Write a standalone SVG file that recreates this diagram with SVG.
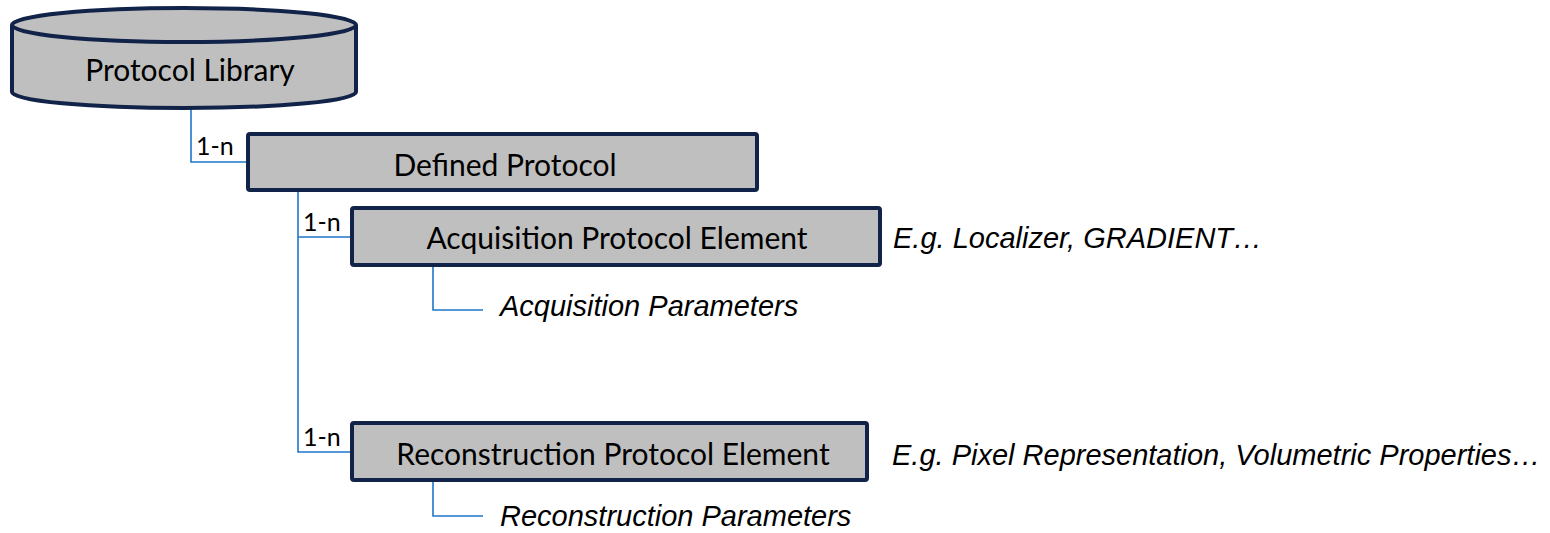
<svg xmlns="http://www.w3.org/2000/svg" width="1550" height="533" viewBox="0 0 1550 533">
<style>
.box{fill:#bfbfbf;stroke:#12234a;stroke-width:4}
.lbl{font-family:Lato,"Open Sans",sans-serif;font-size:30px;fill:#000;text-anchor:middle}
.card{font-family:Lato,"Open Sans",sans-serif;font-size:25px;fill:#000}
.note{font-family:"Liberation Sans",Arial,sans-serif;font-size:29px;font-style:italic;fill:#000}
.conn{fill:none;stroke:#1f77c8;stroke-width:1.6}
</style>
<rect width="1550" height="533" fill="#fff"/>
<g id="connectors">
<path class="conn" d="M191 107 V162 H248"/>
<path class="conn" d="M298 190 V452 H352 M298 237 H352"/>
<path class="conn" d="M433 265 V310 H483"/>
<path class="conn" d="M433 480 V516 H483"/>
<text class="card" x="196" y="155">1-n</text>
<text class="card" x="303" y="231">1-n</text>
<text class="card" x="303" y="446">1-n</text>
</g>
<g id="protocol-library">
<path class="box" d="M12 25 A172 17 0 0 1 356 25 V92 A172 16 0 0 1 12 92 Z"/>
<path class="box" style="fill:none" d="M12 25 A172 17 0 0 0 356 25"/>
<text class="lbl" x="190" y="81">Protocol Library</text>
</g>
<g id="defined-protocol">
<rect class="box" x="248" y="134" width="509" height="56" rx="2"/>
<text class="lbl" x="505" y="176">Defined Protocol</text>
</g>
<g id="acquisition-element">
<rect class="box" x="352" y="208" width="528" height="57" rx="2"/>
<text class="lbl" x="617" y="249">Acquisition Protocol Element</text>
</g>
<g id="acquisition-parameters">
<text class="note" x="500" y="316">Acquisition Parameters</text>
</g>
<g id="acquisition-example">
<text class="note" x="893" y="248">E.g. Localizer, GRADIENT…</text>
</g>
<g id="reconstruction-element">
<rect class="box" x="352" y="423" width="515" height="57" rx="2"/>
<text class="lbl" x="613" y="465">Reconstruction Protocol Element</text>
</g>
<g id="reconstruction-parameters">
<text class="note" x="500" y="526">Reconstruction Parameters</text>
</g>
<g id="reconstruction-example">
<text class="note" x="892" y="465">E.g. Pixel Representation, Volumetric Properties…</text>
</g>
</svg>
